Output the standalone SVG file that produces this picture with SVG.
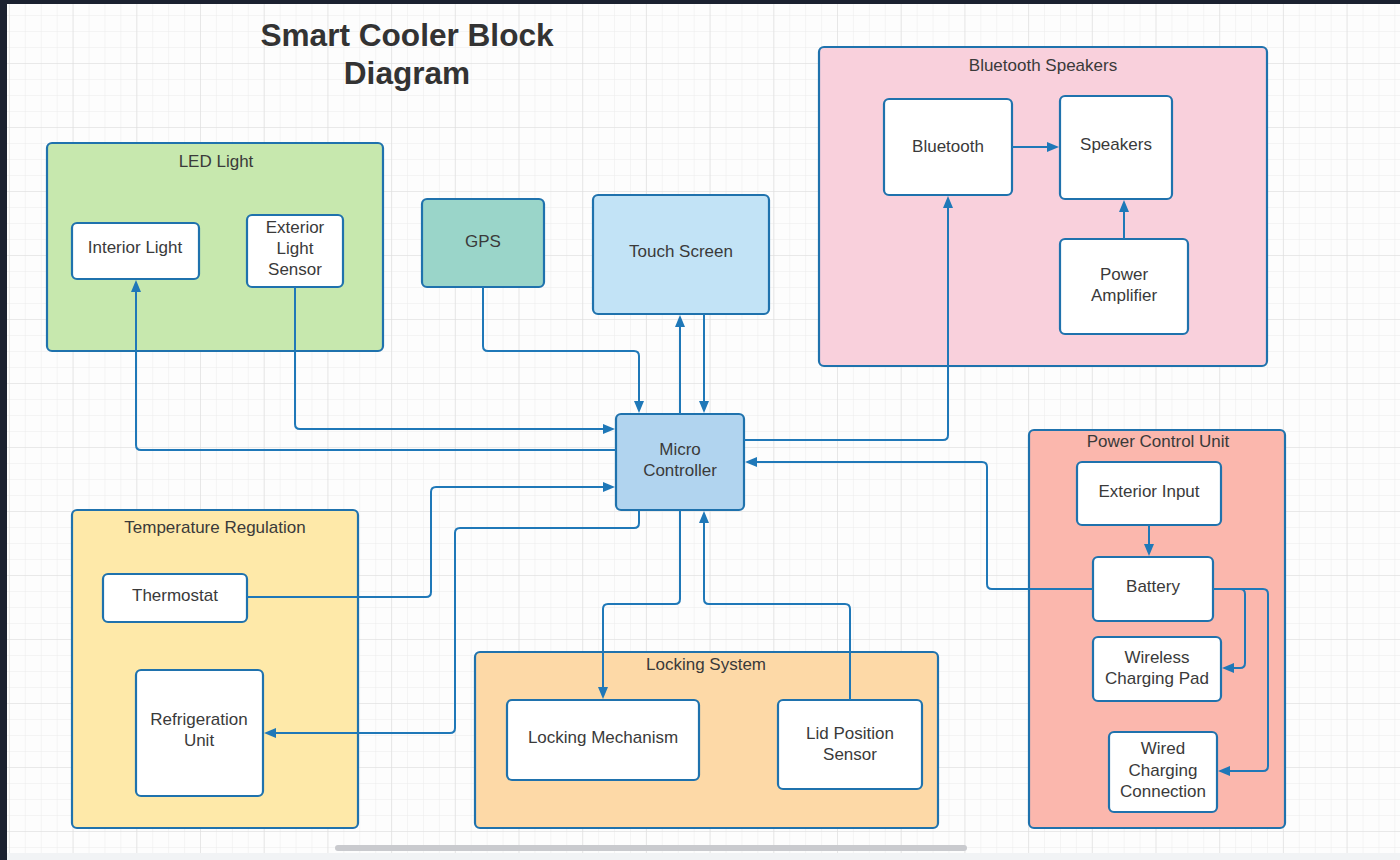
<svg xmlns="http://www.w3.org/2000/svg" width="1400" height="860" viewBox="0 0 1400 860">
<defs>
<pattern id="minor" patternUnits="userSpaceOnUse" x="8.9" y="-1" width="15.925" height="16">
<path d="M0 0 H15.925 M0 0 V16" fill="none" stroke="#ebebeb" stroke-width="1"/>
</pattern>
<pattern id="major" patternUnits="userSpaceOnUse" x="8.9" y="-1" width="63.7" height="64">
<path d="M0 0 H63.7 M0 0 V64" fill="none" stroke="#dedede" stroke-width="1.2"/>
</pattern>
<marker id="ah" markerWidth="12" markerHeight="10" refX="1" refY="5" orient="auto" markerUnits="userSpaceOnUse">
<path d="M0,0 L12,5 L0,10 z" fill="#1f78b8"/>
</marker>
</defs>
<style>
.box{stroke:#1f72ad;stroke-width:2.2}
.inner{fill:#ffffff}
.t{font-family:"Liberation Sans",Arial,sans-serif;font-size:17px;fill:#3a3a3a;text-anchor:middle;dominant-baseline:central}
.ttl{font-family:"Liberation Sans",Arial,sans-serif;font-size:31.6px;font-weight:bold;fill:#333333;text-anchor:middle}
.c{fill:none;stroke:#1f78b8;stroke-width:2;marker-end:url(#ah)}
</style>
<rect x="0" y="0" width="1400" height="860" fill="#1b2130"/>
<rect x="7" y="4" width="1393" height="849" fill="#fdfdfd"/>
<rect x="7" y="4" width="1393" height="849" fill="url(#minor)"/>
<rect x="7" y="4" width="1393" height="849" fill="url(#major)"/>
<rect x="7" y="853" width="1393" height="7" fill="#f1f3f5"/>
<rect x="335" y="845" width="632" height="6" rx="3" fill="#c9cace"/>

<text class="ttl" x="407" y="46">Smart Cooler Block</text>
<text class="ttl" x="407" y="84">Diagram</text>

<g id="led-light">
<rect class="box" x="47" y="143" width="336" height="208" rx="5" fill="#c7e8ae"/>
<text class="t" x="216" y="161">LED Light</text>
</g>
<g id="interior-light">
<rect class="box inner" x="72" y="223" width="127" height="56" rx="5"/>
<text class="t" x="135" y="247">Interior Light</text>
</g>
<g id="exterior-light-sensor">
<rect class="box inner" x="247" y="215" width="96" height="72" rx="5"/>
<text class="t" x="295" y="227">Exterior</text>
<text class="t" x="295" y="248">Light</text>
<text class="t" x="295" y="269">Sensor</text>
</g>
<g id="gps">
<rect class="box" x="422" y="199" width="122" height="88" rx="5" fill="#9ad5c9"/>
<text class="t" x="483" y="241">GPS</text>
</g>
<g id="touch-screen">
<rect class="box" x="593" y="195" width="176" height="119" rx="5" fill="#c2e3f6"/>
<text class="t" x="681" y="251">Touch Screen</text>
</g>
<g id="bluetooth-speakers">
<rect class="box" x="819" y="47" width="448" height="319" rx="5" fill="#f9d0dc"/>
<text class="t" x="1043" y="65">Bluetooth Speakers</text>
</g>
<g id="bluetooth">
<rect class="box inner" x="884" y="99" width="128" height="96" rx="5"/>
<text class="t" x="948" y="146">Bluetooth</text>
</g>
<g id="speakers">
<rect class="box inner" x="1060" y="96" width="112" height="103" rx="5"/>
<text class="t" x="1116" y="144">Speakers</text>
</g>
<g id="power-amplifier">
<rect class="box inner" x="1060" y="239" width="128" height="95" rx="5"/>
<text class="t" x="1124" y="274">Power</text>
<text class="t" x="1124" y="295">Amplifier</text>
</g>
<g id="micro-controller">
<rect class="box" x="616" y="414" width="128" height="96" rx="5" fill="#b1d4ef"/>
<text class="t" x="680" y="449">Micro</text>
<text class="t" x="680" y="470">Controller</text>
</g>
<g id="power-control-unit">
<rect class="box" x="1029" y="430" width="256" height="398" rx="5" fill="#fbb7ad"/>
<text class="t" x="1158" y="441">Power Control Unit</text>
</g>
<g id="exterior-input">
<rect class="box inner" x="1077" y="462" width="144" height="63" rx="5"/>
<text class="t" x="1149" y="491">Exterior Input</text>
</g>
<g id="battery">
<rect class="box inner" x="1093" y="557" width="120" height="64" rx="5"/>
<text class="t" x="1153" y="586">Battery</text>
</g>
<g id="wireless-charging-pad">
<rect class="box inner" x="1093" y="637" width="128" height="64" rx="5"/>
<text class="t" x="1157" y="657">Wireless</text>
<text class="t" x="1157" y="678">Charging Pad</text>
</g>
<g id="wired-charging-connection">
<rect class="box inner" x="1109" y="732" width="108" height="80" rx="5"/>
<text class="t" x="1163" y="748">Wired</text>
<text class="t" x="1163" y="770">Charging</text>
<text class="t" x="1163" y="791">Connection</text>
</g>
<g id="temperature-regulation">
<rect class="box" x="72" y="510" width="286" height="318" rx="5" fill="#fee9a9"/>
<text class="t" x="215" y="527">Temperature Regulation</text>
</g>
<g id="thermostat">
<rect class="box inner" x="103" y="574" width="144" height="48" rx="5"/>
<text class="t" x="175" y="595">Thermostat</text>
</g>
<g id="refrigeration-unit">
<rect class="box inner" x="136" y="670" width="127" height="126" rx="5"/>
<text class="t" x="199" y="719">Refrigeration</text>
<text class="t" x="199" y="740">Unit</text>
</g>
<g id="locking-system">
<rect class="box" x="475" y="652" width="463" height="176" rx="5" fill="#fdd9a7"/>
<text class="t" x="706" y="664">Locking System</text>
</g>
<g id="locking-mechanism">
<rect class="box inner" x="507" y="700" width="192" height="80" rx="5"/>
<text class="t" x="603" y="737">Locking Mechanism</text>
</g>
<g id="lid-position-sensor">
<rect class="box inner" x="778" y="700" width="144" height="89" rx="5"/>
<text class="t" x="850" y="733">Lid Position</text>
<text class="t" x="850" y="754">Sensor</text>
</g>

<g id="connectors">
<path class="c" d="M295 287 V424 Q295 429 300 429 H604"/>
<path class="c" d="M616 450 H141 Q136 450 136 445 V291"/>
<path class="c" d="M483 287 V346 Q483 351 488 351 H634 Q639 351 639 356 V402"/>
<path class="c" d="M680 414 V326"/>
<path class="c" d="M704 314 V402"/>
<path class="c" d="M744 440 H943 Q948 440 948 435 V207"/>
<path class="c" d="M1093 589 H992 Q987 589 987 584 V467 Q987 462 982 462 H756"/>
<path class="c" d="M247 597 H426 Q431 597 431 592 V492 Q431 487 436 487 H604"/>
<path class="c" d="M639 510 V523 Q639 528 634 528 H460 Q455 528 455 533 V728 Q455 733 450 733 H275"/>
<path class="c" d="M680 510 V599 Q680 604 675 604 H608 Q603 604 603 609 V688"/>
<path class="c" d="M850 700 V609 Q850 604 845 604 H709 Q704 604 704 599 V522"/>
<path class="c" d="M1012 147 H1048"/>
<path class="c" d="M1124 239 V211"/>
<path class="c" d="M1149 525 V545"/>
<path class="c" d="M1213 589 H1240 Q1245 589 1245 594 V663 Q1245 668 1240 668 H1233"/>
<path class="c" d="M1213 589 H1263 Q1268 589 1268 594 V766 Q1268 771 1263 771 H1229"/>
</g>
</svg>
